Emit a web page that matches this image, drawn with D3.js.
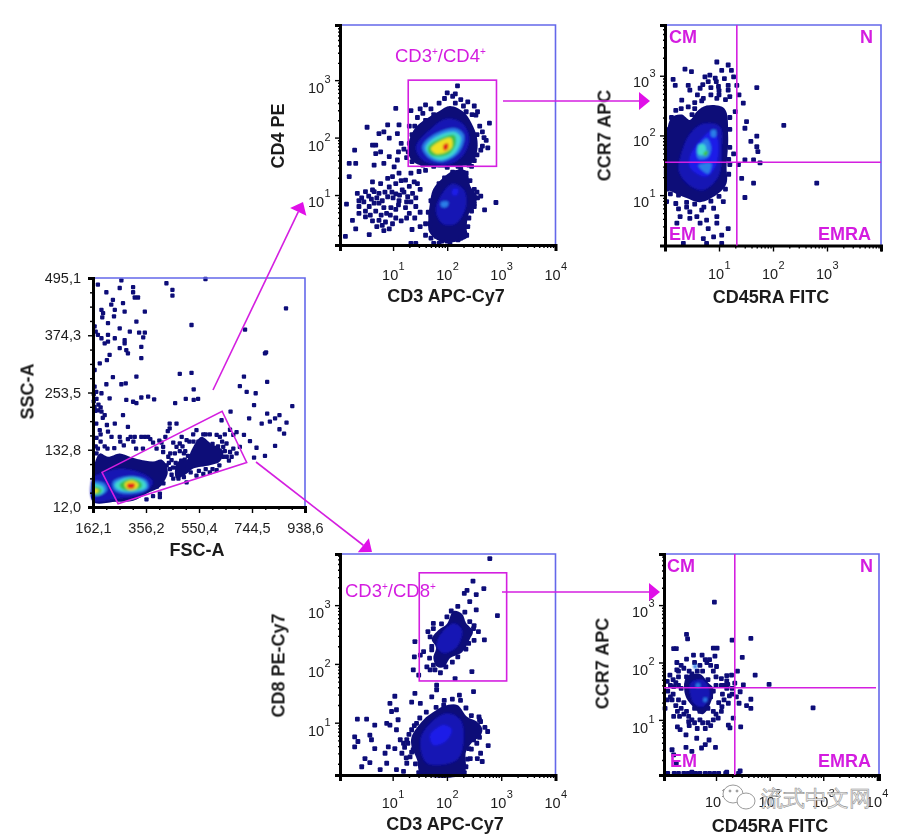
<!DOCTYPE html>
<html><head><meta charset="utf-8">
<script src="https://cdn.jsdelivr.net/npm/d3@7/dist/d3.min.js"></script>
<style>html,body{margin:0;background:#fff}svg{display:block}text{font-family:"Liberation Sans",Arial,sans-serif}</style>
</head><body><svg id="c" width="900" height="838"></svg>
<script>
// Density level colours, low to high
const levelColors=['#0b0b78','#1212b4','#1c1ce8','#2a7ee8','#3fd8d0','#3cc04a','#f0e020','#e0241a'];
// Panel A: FSC-A / SSC-A (linear values)
const fscTicks=[162.1,356.2,550.4,744.5,938.6];
const sscTicks=[12,132.8,253.5,374.3,495.1];
const aGate=[[195,85],[635,214],[725,106],[254,19]];
const aContours=[
[0,[[162,82],[172,111],[187,125],[217,118],[260,125],[297,118],[333,112],[382,108],[413,112],[431,100],[436,85],[431,75],[407,54],[358,40],[309,25],[248,23],[162,23]]],
[0,[[505,111],[523,132],[541,150],[560,160],[596,145],[615,140],[639,130],[627,108],[590,100],[529,93],[505,82],[468,72],[462,85],[474,108]]],
[1,[[162,75],[187,82],[260,93],[346,82],[382,65],[346,40],[260,30],[162,26]]],
[3,[[165,65],[205,61],[213,47],[187,37],[165,37]]],
[3,[[235,65],[297,77],[358,68],[364,51],[297,40],[242,47]]],
[4,[[165,60],[199,54],[201,44],[180,37],[165,39]]],
[4,[[242,60],[297,74],[352,65],[356,53],[297,44],[248,51]]],
[5,[[165,54],[193,49],[187,40],[165,40]]],
[5,[[260,60],[303,72],[339,63],[339,53],[297,46],[266,51]]],
[6,[[165,51],[184,47],[174,42],[165,42]]],
[6,[[278,61],[303,68],[327,61],[321,51],[290,49]]],
[7,[[287,60],[315,61],[311,52],[290,52]]]];
const aDots=[[419,128],[419,139],[438,118],[450,111],[462,125],[468,139],[456,148],[480,146],[487,160],[505,153],[529,165],[541,174],[566,165],[590,165],[615,164],[639,139],[651,146],[664,128],[676,135],[688,125],[700,139],[670,118],[652,118],[639,118],[627,160],[645,165],[676,164],[688,170],[664,175],[615,90],[590,85],[566,82],[541,78],[505,64],[444,92],[468,95],[480,88],[492,100],[456,72],[407,40],[382,35],[358,28],[396,55],[420,62],[396,85],[420,90],[432,100],[180,135],[190,150],[205,140],[215,135],[175,125],[172,140],[190,165],[175,158],[240,136],[262,150],[275,142],[290,155],[230,160],[300,160],[310,150],[320,135],[345,135],[352,160],[372,155],[382,148],[395,135],[405,152],[413,148],[427,160],[436,172],[407,33],
[480,130],[495,125],[510,120],[530,150],[548,150],[575,165],[600,145],[620,140],[635,150],[645,130],[660,110],[625,100],[600,92],[575,92],[550,88],[520,85],[495,75],[475,72],[450,80],[465,105],[500,130],[515,150],[440,105],[455,95],[485,110],[445,125],[490,140],[498,112],
[431,484],[453,470],[453,458],[574,493],[523,396],[719,386],[796,338],[869,431],[480,293],[523,295],[715,287],[700,267],[800,276],[531,260],[502,240],[547,240],[463,231],[531,238],[725,255],[758,252],[752,227],[892,225],[633,195],[666,213],[734,199],[780,188],[800,209],[810,192],[829,199],[845,206],[871,190],[845,176],[862,167],[443,188],[468,188],[443,178],[829,141],[761,137],[792,120],[752,116],[737,151],[715,164],[792,336],
[180,481],[266,490],[309,476],[309,465],[211,465],[260,474],[315,454],[327,454],[235,449],[272,442],[229,439],[193,428],[199,421],[242,428],[278,424],[352,424],[196,412],[217,400],[239,414],[321,403],[260,389],[168,393],[172,382],[180,375],[193,368],[217,375],[217,361],[205,357],[242,368],[278,364],[278,357],[297,382],[331,380],[352,380],[346,370],[339,350],[260,347],[284,343],[290,336],[223,333],[213,322],[187,315],[168,301],[339,326],[235,286],[321,287],[266,271],[282,273],[211,271],[168,266],[174,255],[193,252],[223,241],[284,238],[309,234],[321,231],[339,243],[364,245],[386,239],[168,223],[180,216],[193,213],[205,206],[174,188],[213,185],[242,188],[272,206],[290,181],[187,174],[217,171],[260,160],[315,160],[339,160],[364,160],[165,250],[175,240],[182,228],[170,215],[190,222],[165,235],[198,200]];
// Panel B: CD3 / CD4, log10 values
const bGate=[[1.28,3.0],[2.91,1.5]];
const bContours=[
[0,[[1.30,1.96],[1.42,2.18],[1.60,2.32],[1.85,2.46],[2.05,2.55],[2.3,2.45],[2.45,2.25],[2.55,2.0],[2.55,1.75],[2.45,1.55],[2.2,1.5],[1.85,1.48],[1.42,1.55],[1.3,1.67]]],
[0,[[1.65,.55],[1.68,.85],[1.74,1.1],[1.9,1.28],[2.1,1.42],[2.35,1.42],[2.43,1.15],[2.55,.98],[2.5,.8],[2.4,.68],[2.36,.4],[2.38,.27],[2.1,.18],[1.85,.2],[1.67,.35]]],
[1,[[1.42,1.84],[1.67,2.13],[1.98,2.33],[2.28,2.25],[2.41,1.99],[2.28,1.67],[1.98,1.52],[1.54,1.61]]],
[1,[[1.79,.74],[1.91,1.03],[2.10,1.20],[2.31,1.09],[2.35,.80],[2.16,.50],[1.91,.50]]],
[3,[[1.88,.87],[2.02,.88],[2.0,.80],[1.9,.79]]],
[2,[[2.1,1.1],[2.2,1.1],[2.18,1.0],[2.1,1.0]]],
[3,[[1.54,1.84],[1.79,2.07],[2.16,2.16],[2.31,2.04],[2.22,1.75],[1.91,1.58],[1.67,1.64]]],
[4,[[1.60,1.83],[1.79,2.01],[2.13,2.10],[2.25,2.0],[2.16,1.75],[1.88,1.61],[1.67,1.70]]],
[5,[[1.65,1.84],[1.88,1.99],[2.13,2.04],[2.16,1.90],[2.04,1.72],[1.79,1.67],[1.67,1.72]]],
[6,[[1.70,1.81],[1.91,1.96],[2.07,1.99],[2.09,1.84],[1.98,1.75],[1.79,1.72]]],
[7,[[1.93,1.87],[2.01,1.90],[2.01,1.80],[1.94,1.78]]]];
const bDots=[[1.05,2.51],[1.33,2.47],[.52,2.18],[.90,2.22],[.83,2.10],[.74,2.07],[1.11,2.22],[1.08,2.07],[.93,1.99],[.62,1.87],[.68,1.87],[.29,1.78],[.68,1.72],[.77,1.75],[.93,1.67],[1.08,1.61],[.65,1.52],[.19,1.55],[.31,1.55],[.83,1.55],[1.02,1.49],[.19,1.32],[.62,1.23],[.77,1.20],[.90,1.29],[.99,1.32],[1.11,1.38],[1.33,1.38],[1.48,1.41],[1.60,1.43],
[.34,1.03],[.49,1.06],[.65,1.06],[.37,.90],[.14,.84],[.49,.72],[.65,.86],[.74,1.03],[.90,.97],[.93,1.14],[1.05,1.20],[1.17,1.09],[1.11,.90],[1.27,.97],[1.39,1.23],[1.23,1.26],[1.36,1.03],[.68,.72],[.83,.78],[.96,.78],[1.05,.75],[1.23,.78],[.74,.56],[.86,.53],[.99,.50],[.49,.62],[.37,.68],[.25,.56],[.31,.41],[.12,.28],[.56,.31],[.83,.38],[.93,.41],[1.33,.16],[1.42,.16],[1.30,.68],[1.42,.80],[.56,.80],[.74,.86],[.37,.80],[.62,1.09],[.42,.95],[.46,.88],[.55,.98],[.60,.93],[.70,.95],[.80,.90],[.85,1.05],[.98,1.05],[1.0,.95],[1.05,1.02],[1.12,1.0],[1.2,1.05],[1.25,.88],[1.33,.88],[1.42,.95],[1.5,1.1],[1.45,1.2],[1.3,1.15],[1.15,1.25],[1.1,.83],[.95,.65],[.88,.68],[.78,.65],[.58,.65],[.62,.55],[.7,.45],[.8,.47],[1.05,.6],[1.15,.55],[1.25,.6],[1.4,.6],[1.5,.7],[1.5,.45],[1.35,.4],[1.6,.3],[1.7,.25],[1.75,.16],[1.85,.16],
[2.9,.87],[2.69,.74],[2.19,2.90],[2.78,2.25],[2.53,2.39],[2.55,2.05],[2.68,2.0],[2.75,1.82],[2.62,1.78],[2.45,1.5],[1.2,1.8],[1.25,1.65],[1.1,1.75],[1.15,1.9],[1.3,2.2],[1.5,2.5],[1.6,2.57],[2.0,2.78],[2.15,2.76],[2.0,.2],[2.2,.22],[2.3,.3],[1.6,.5],[1.65,.7],[1.7,.9],[2.55,1.05],[2.62,.98],[2.5,.8],
[1.35,2.05],[1.4,2.2],[1.45,2.35],[1.55,2.42],[1.7,2.5],[1.85,2.6],[1.95,2.68],[2.1,2.72],[2.25,2.66],[2.38,2.62],[2.5,2.55],[2.56,2.45],[2.46,2.4],[2.6,2.2],[2.65,2.1],[2.72,1.95],[2.65,1.85],[2.55,1.7],[2.5,1.6],[2.4,1.52],[2.2,1.5],[2.0,1.48],[1.75,1.5],[1.55,1.52],[1.35,1.58],[1.28,1.75],[1.3,1.9],[2.35,2.45],[2.3,2.55],[2.15,2.6],[1.75,2.4],[1.6,2.3],
[1.75,.4],[1.68,.5],[1.7,.65],[1.75,.85],[1.78,1.05],[1.85,1.2],[1.95,1.3],[2.1,1.4],[2.25,1.45],[2.35,1.38],[2.42,1.25],[2.5,1.1],[2.56,.95],[2.5,.85],[2.45,.72],[2.4,.6],[2.38,.45],[2.36,.3],[2.25,.25],[2.05,.17],[1.9,.2],[1.8,.28]];
// Panel C: CD45RA / CCR7 of CD4 gate, log10 values
const cQuad=[1.33,1.55];
const cContours=[
[0,[[.02,1.92],[.12,2.3],[.31,2.35],[.46,2.26],[.59,2.4],[.77,2.5],[1.1,2.45],[1.17,1.98],[1.14,1.47],[1.14,1.20],[.99,1.03],[.65,.88],[.40,.95],[.15,1.05],[.02,1.12]]],
[1,[[.28,1.64],[.46,2.03],[.71,2.2],[1.02,2.15],[1.05,1.75],[.99,1.31],[.71,1.08],[.40,1.2],[.25,1.42]]],
[2,[[.46,1.64],[.65,1.92],[.9,2.09],[.99,1.87],[.93,1.47],[.77,1.31],[.59,1.36],[.46,1.47]]],
[3,[[.59,1.75],[.77,1.95],[.85,1.81],[.8,1.64],[.62,1.61]]],
[3,[[.62,1.5],[.86,1.53],[.8,1.36],[.68,1.42]]],
[3,[[.86,2.09],[.94,2.09],[.94,1.98],[.86,1.98]]],
[4,[[.62,1.84],[.74,1.84],[.74,1.68],[.62,1.68]]],
[5,[[.72,1.72],[.8,1.74],[.77,1.66],[.72,1.66]]]];
const cDots=[[.96,3.23],[1.17,3.18],[1.23,3.09],[1.05,3.09],[.37,3.11],[.49,3.07],[.15,2.94],[.19,2.84],[.43,2.84],[.46,2.76],[.65,2.79],[.74,2.98],[.83,3.01],[.93,2.96],[.80,2.90],[.99,2.82],[1.17,2.84],[1.27,2.98],[1.33,2.84],[1.17,2.76],[1.70,2.80],[1.37,2.68],[.31,2.59],[.43,2.48],[.71,2.62],[.96,2.62],[1.45,2.54],[1.30,2.40],[1.51,2.23],[1.48,2.12],[2.2,2.17],[1.70,1.99],[1.59,1.90],[1.70,1.81],[1.72,1.73],[1.27,1.69],[1.48,1.59],[1.64,1.59],[1.76,1.54],[1.20,1.51],[1.36,1.51],[1.42,1.28],[1.64,1.20],[2.81,1.20],[1.48,.96],[1.08,.89],[.2,.86],[.25,.77],[.40,.80],[.46,.72],[.68,.75],[.9,.78],[.96,.64],[.28,.64],[.46,.61],[.59,.64],[.77,.58],[.22,.53],[.65,.53],[.96,.53],[1.17,.44],[.8,.44],[.71,.27],[.9,.30],[1.05,.33],[.34,.19],[1.05,.19],[.77,.19],[.03,.89],[.7,2.85],[.95,2.9],[1.0,2.75],[.85,2.8],[1.1,2.95],[1.2,2.65],[.55,2.55],[.6,2.68],
[.03,1.3],[.05,1.7],[.08,2.1],[.12,2.3],[.2,2.42],[.3,2.45],[.5,2.35],[.55,2.45],[.68,2.58],[.85,2.68],[1.0,2.68],[1.12,2.6],[1.2,2.3],[1.2,2.1],[1.2,1.8],[1.18,1.6],[1.18,1.35],[1.12,1.1],[1.0,.98],[.85,.9],[.72,.8],[.55,.85],[.4,.88],[.25,1.0],[.1,1.02],[.03,1.1],[.06,1.5]];
// Panel D: CD3 / CD8, log10 values
const dGate=[[1.49,3.55],[3.10,1.71]];
const dContours=[
[0,[[1.72,2.42],[1.85,2.58],[2.0,2.68],[2.12,2.9],[2.28,2.85],[2.35,2.7],[2.48,2.55],[2.42,2.42],[2.28,2.2],[2.06,2.1],[1.95,1.95],[1.82,1.95],[1.75,2.1],[1.8,2.28]]],
[1,[[1.85,2.46],[2.12,2.69],[2.28,2.58],[2.19,2.29],[1.94,2.18],[1.81,2.29]]],
[0,[[1.35,.76],[1.57,1.05],[1.75,1.18],[1.94,1.28],[2.19,1.3],[2.37,1.1],[2.55,1.02],[2.65,.9],[2.62,.78],[2.45,.65],[2.35,.5],[2.31,.13],[1.52,.13],[1.45,.37],[1.35,.59]]],
[1,[[1.51,.71],[1.69,.99],[2.0,1.16],[2.25,1.05],[2.31,.71],[2.19,.37],[1.63,.31]]],
[2,[[1.69,.79],[1.94,.96],[2.09,.88],[1.97,.68],[1.75,.62]]]];
const dDots=[[2.79,3.79],[2.48,3.41],[2.68,3.28],[2.37,3.25],[2.32,3.20],[2.54,3.18],[2.42,3.06],[2.54,2.92],[2.93,2.82],[2.69,2.41],[2.49,2.60],[2.46,1.87],[1.41,2.38],[1.57,2.21],[1.40,2.12],[1.51,2.15],[1.63,1.95],[1.75,1.98],[1.38,1.90],[1.69,1.90],[1.48,1.81],[2.15,1.75],[1.81,1.64],[1.81,1.56],[1.72,1.44],[2.23,1.47],[2.49,1.53],[1.41,1.50],[1.04,1.45],[1.35,1.35],[.95,1.33],[.98,1.19],[1.07,1.22],[1.51,1.33],[1.94,1.30],[.35,1.06],[.52,1.06],[.67,.96],[.58,.79],[.30,.76],[.36,.68],[.30,.59],[.61,.71],[.89,.99],[.95,.96],[1.10,1.05],[1.07,.88],[1.14,.71],[1.2,.65],[1.04,.56],[1.17,.48],[.86,.48],[.92,.59],[.67,.56],[.49,.39],[.58,.32],[.43,.25],[.77,.20],[.89,.31],[1.07,.20],[1.2,.17],[1.26,.31],[1.32,.42],[1.38,.54],[1.26,.71],[1.35,.88],[1.44,.99],[2.59,1.10],[2.62,1.02],[2.76,.61],[2.62,.48],[2.56,.39],[2.65,.34],[2.43,.39],[2.4,.56],[2.49,.71],[1.75,2.69],[1.69,2.46],[1.72,2.24],[2.25,2.41],
[1.65,2.55],[1.75,2.6],[1.9,2.68],[2.0,2.8],[2.08,2.9],[2.2,2.98],[2.33,2.88],[2.42,2.72],[2.5,2.65],[2.58,2.55],[2.5,2.4],[2.4,2.35],[2.35,2.25],[2.2,2.12],[2.1,2.03],[1.98,1.95],[1.88,1.85],[1.78,1.9],[1.68,2.1],[1.72,2.3],
[1.3,.8],[1.4,.95],[1.5,1.08],[1.62,1.18],[1.8,1.26],[1.95,1.38],[2.1,1.4],[2.25,1.38],[2.35,1.25],[2.45,1.12],[2.6,1.05],[2.7,.92],[2.75,.85],[2.6,.75],[2.55,.65],[2.45,.55],[2.38,.38],[2.35,.25],[2.32,.15],[1.48,.15],[1.42,.3],[1.35,.5],[1.28,.65],[1.22,.58],[1.25,.4]];
// Panel E: CD45RA / CCR7 of CD8 gate, log10 values
const eQuad=[1.35,1.56];
const eContours=[
[0,[[.45,1.75],[.7,1.8],[.85,1.65],[.95,1.55],[.9,1.3],[.75,1.1],[.55,1.25],[.42,1.45]]],
[1,[[.52,1.64],[.76,1.70],[.89,1.46],[.76,1.23],[.58,1.29]]],
[3,[[.63,1.63],[.7,1.63],[.7,1.57],[.63,1.57]]],
[3,[[.77,1.38],[.83,1.38],[.83,1.32],[.77,1.32]]],
[3,[[.58,1.96],[.64,1.96],[.64,1.9],[.58,1.9]]]];
const eDots=[[.97,3.05],[.45,2.49],[.47,2.41],[1.65,2.42],[1.30,2.39],[.21,2.24],[.26,2.24],[.95,2.25],[1.02,2.25],[1.49,2.09],[.58,2.13],[.74,2.13],[.98,2.11],[.45,2.06],[.88,2.05],[.27,2.0],[.83,2.0],[1.01,1.93],[.27,1.87],[1.40,1.85],[1.73,1.78],[1.99,1.62],[1.51,1.61],[.14,1.78],[.09,1.67],[.30,1.75],[1.2,1.77],[1.29,1.78],[.21,1.58],[1.35,1.64],[1.45,1.49],[1.65,1.36],[1.57,1.25],[1.65,1.20],[1.43,1.29],[2.81,1.21],[.09,1.35],[.18,1.35],[.05,1.20],[.21,1.06],[.32,1.06],[.49,1.06],[1.11,1.23],[1.23,1.29],[1.32,1.03],[1.46,.88],[1.26,.86],[1.23,.91],[1.04,1.03],[.28,.88],[.33,.83],[.49,.97],[.44,.74],[.64,.68],[.87,.65],[.80,.57],[.73,.51],[.99,.52],[.44,.52],[.55,.45],[.18,.48],[.26,.25],[.21,.39],[.06,.07],[.1,.07],[.22,.07],[.3,.07],[.4,.07],[.48,.07],[.55,.09],[.62,.07],[.7,.07],[.8,.07],[.88,.07],[.97,.07],[1.05,.07],[1.18,.07],[1.2,.09],[1.42,.07],[1.45,.11],[.35,1.95],[.45,1.75],[.3,1.6],[.2,1.45],[.25,1.25],[.4,1.1],[.5,.9],[.65,.85],[.75,.95],[.9,.9],[.95,1.15],[1.12,1.45],[1.15,1.6],[1.2,1.55],[1.3,1.45],[1.38,1.4],[.15,1.6],[.1,1.5],
[.3,1.85],[.4,1.9],[.5,1.85],[.6,2.0],[.7,1.95],[.8,2.05],[.9,1.95],[.95,1.85],[1.0,1.75],[1.1,1.72],[1.2,1.68],[.2,1.7],[.25,1.65],[.35,1.55],[.15,1.4],[.3,1.35],[.35,1.2],[.28,1.15],[.4,1.3],[.45,1.15],[.55,1.0],[.6,.95],[.7,1.0],[.8,.85],[.85,.95],[.95,1.0],[1.0,1.1],[1.1,1.15],[1.05,1.3],[1.15,1.35],[1.25,1.42],[1.3,1.55],[1.22,1.62],[1.1,1.6],[1.0,1.6],[.95,1.5],[.9,1.4],[.85,1.2],[.7,1.15],[.6,1.2],[.5,1.4],[.45,1.6],[.55,1.8],[.65,1.85],[.75,1.85],[.85,1.7]];

const MAG='#d41fe0',BORDER='#6468ea',INK='#1c1c1c';
const svg=d3.select('#c');
const defs=svg.append('defs');
defs.append('filter').attr('id','soft').append('feGaussianBlur').attr('stdDeviation',0.6);
defs.append('filter').attr('id','softH').append('feGaussianBlur').attr('stdDeviation',1.3);
defs.append('filter').attr('id','softT').append('feGaussianBlur').attr('stdDeviation',0.35);

function marks(g,x,y,contours,dots,size){
  const m=g.append('g').attr('filter','url(#soft)');
  const line=d3.line().x(d=>x(d[0])).y(d=>y(d[1])).curve(d3.curveCatmullRomClosed);
  m.selectAll('path').data(contours.filter(c=>c[0]===0)).join('path').attr('d',c=>line(c[1])).attr('fill',levelColors[0]);
  m.selectAll('rect').data(dots).join('rect').attr('x',d=>x(d[0])-size/2).attr('y',d=>y(d[1])-size/2).attr('width',size).attr('height',size).attr('rx',1).attr('fill',levelColors[0]);
  const h=g.append('g').attr('filter','url(#softH)');
  h.selectAll('path').data(contours.filter(c=>c[0]>0)).join('path').attr('d',c=>line(c[1])).attr('fill',c=>levelColors[c[0]]);
}
function frame(g,x0,x1,y0,y1){
  g.append('path').attr('d',`M${x0},${y0}H${x1}V${y1}`).attr('fill','none').attr('stroke',BORDER).attr('stroke-width',1.6);
}
function styleAxis(a){
  a.selectAll('.domain').attr('stroke','#000').attr('stroke-width',3);
  a.selectAll('.tick line').attr('stroke','#000').attr('stroke-width',1.4);
  a.attr('filter','url(#softT)');
}
function txt(p,s,x,y,o={}){
  const t=p.append('text').attr('x',x).attr('y',y).text(s)
    .attr('font-size',o.size||14).attr('fill',o.fill||INK).attr('text-anchor',o.anchor||'start')
    .attr('font-weight',o.weight||'normal').attr('filter','url(#softT)');
  if(o.rot!==undefined)t.attr('transform',`rotate(${o.rot},${x},${y})`);
  return t;
}
function pow(p,n,x,y){
  txt(p,'10',x,y,{size:14.5});
  txt(p,String(n),x+16.5,y-10,{size:11});
}
function logAxes(g,P){
  const x=d3.scaleLog().domain([10**P.xe[0],10**P.xe[1]]).range(P.xr);
  const y=d3.scaleLog().domain([10**P.ye[0],10**P.ye[1]]).range(P.yr);
  return {x,y,X:e=>x(10**e),Y:e=>y(10**e)};
}
function minors(dec){const r=[];dec.forEach(k=>{for(let i=2;i<10;i++)r.push(i*10**k)});return r;}
function logPanel(P){
  const g=svg.append('g');
  const S=logAxes(g,P);
  marks(g,S.X,S.Y,P.contours,P.dots,4.8);
  frame(g,P.xr[0],P.xr[1],P.yr[1],P.yr[0]);
  const ax=g.append('g').attr('transform',`translate(0,${P.yr[0]})`);
  ax.call(d3.axisBottom(S.x).tickValues([10,100,1000,10000]).tickSize(6).tickFormat('').tickPadding(0));
  const ax2=g.append('g').attr('transform',`translate(0,${P.yr[0]})`);
  ax2.call(d3.axisBottom(S.x).tickValues(minors([1,2,3])).tickSize(3).tickFormat(''));
  ax2.select('.domain').remove();
  const ay=g.append('g').attr('transform',`translate(${P.xr[0]},0)`);
  ay.call(d3.axisLeft(S.y).tickValues([10,100,1000]).tickSize(5).tickFormat(''));
  const ay2=g.append('g').attr('transform',`translate(${P.xr[0]},0)`);
  ay2.call(d3.axisLeft(S.y).tickValues(minors([0,1,2,3]).filter(v=>v>10**P.ye[0]&&v<10**P.ye[1])).tickSize(2).tickFormat(''));
  ay2.select('.domain').remove();
  [ax,ax2,ay,ay2].forEach(styleAxis);
  P.xLab.forEach(n=>pow(g,n,S.x(10**n)-11,P.xLabY));
  P.yLabY.forEach((b,i)=>pow(g,3-i,P.yLabX,b));
  txt(g,P.xTitle,P.xTitleX,P.xTitleY,{size:18,weight:'bold',anchor:'middle'});
  txt(g,P.yTitle,P.yTitleX,P.yTitleY,{size:18,weight:'bold',anchor:'middle',rot:-90});
  return {g,S};
}
// Panel A
(function(){
  const g=svg.append('g');
  const xr=[93,305],yr=[507,278];
  const x=d3.scaleLinear().domain([162.1,938.6]).range(xr);
  const y=d3.scaleLinear().domain([12,495.1]).range(yr);
  marks(g,x,y,aContours,aDots,4.3);
  frame(g,xr[0],xr[1],yr[1],yr[0]);
  const fmt=v=>d3.format('.1f')(v).replace('.',',');
  const ax=g.append('g').attr('transform',`translate(0,${yr[0]})`).call(d3.axisBottom(x).tickValues(fscTicks).tickSize(6).tickFormat(fmt).tickPadding(10));
  const ay=g.append('g').attr('transform',`translate(${xr[0]},0)`).call(d3.axisLeft(y).tickValues(sscTicks).tickSize(5).tickFormat(fmt).tickPadding(7));
  const mx=[],my=[];
  fscTicks.slice(0,-1).forEach((v,i)=>{for(let k=1;k<4;k++)mx.push(v+(fscTicks[i+1]-v)*k/4)});
  sscTicks.slice(0,-1).forEach((v,i)=>{for(let k=1;k<4;k++)my.push(v+(sscTicks[i+1]-v)*k/4)});
  const ax2=g.append('g').attr('transform',`translate(0,${yr[0]})`).call(d3.axisBottom(x).tickValues(mx).tickSize(3).tickFormat(''));
  const ay2=g.append('g').attr('transform',`translate(${xr[0]},0)`).call(d3.axisLeft(y).tickValues(my).tickSize(3).tickFormat(''));
  ax2.select('.domain').remove();ay2.select('.domain').remove();
  [ax,ay,ax2,ay2].forEach(styleAxis);
  [ax,ay].forEach(a=>a.selectAll('text').attr('font-size',14.5).attr('fill',INK).attr('font-family','"Liberation Sans",Arial,sans-serif'));
  const poly=d3.line().x(d=>x(d[0])).y(d=>y(d[1])).curve(d3.curveLinearClosed);
  g.append('path').attr('d',poly(aGate)).attr('fill','none').attr('stroke',MAG).attr('stroke-width',1.6);
  txt(g,'FSC-A',197,555.5,{size:18,weight:'bold',anchor:'middle'});
  txt(g,'SSC-A',33,391.5,{size:18,weight:'bold',anchor:'middle',rot:-90});
})();
// Panel B
(function(){
  const {g,S}=logPanel({xe:[.02,4],ye:[.13,3.96],xr:[340,555.5],yr:[245,25],contours:bContours,dots:bDots,
    xLab:[1,2,3,4],xLabY:280,yLabX:308,yLabY:[92.5,150.5,207],
    xTitle:'CD3 APC-Cy7',xTitleX:446,xTitleY:301.5,yTitle:'CD4 PE',yTitleX:284,yTitleY:136});
  g.append('rect').attr('x',S.X(bGate[0][0])).attr('y',S.Y(bGate[0][1])).attr('width',S.X(bGate[1][0])-S.X(bGate[0][0])).attr('height',S.Y(bGate[1][1])-S.Y(bGate[0][1])).attr('fill','none').attr('stroke',MAG).attr('stroke-width',1.6);
  const t=txt(g,'CD3',395,61.5,{size:18.5,fill:MAG});
  t.append('tspan').text('+').attr('dy',-7).attr('font-size',10);
  t.append('tspan').text('/CD4').attr('dy',7);
  t.append('tspan').text('+').attr('dy',-7).attr('font-size',10);
})();
// Panel C
(function(){
  const {g,S}=logPanel({xe:[0,4],ye:[.156,3.85],xr:[665,881],yr:[245.5,25],contours:cContours,dots:cDots,
    xLab:[1,2,3],xLabY:279,yLabX:633,yLabY:[87,146,206.5],
    xTitle:'CD45RA FITC',xTitleX:771,xTitleY:302.5,yTitle:'CCR7 APC',yTitleX:610,yTitleY:135.5});
  g.append('line').attr('x1',S.X(cQuad[0])).attr('x2',S.X(cQuad[0])).attr('y1',25).attr('y2',245.5).attr('stroke',MAG).attr('stroke-width',1.6);
  g.append('line').attr('x1',665).attr('x2',881).attr('y1',S.Y(cQuad[1])).attr('y2',S.Y(cQuad[1])).attr('stroke',MAG).attr('stroke-width',1.6);
  const o={size:18,weight:'bold',fill:MAG};
  txt(g,'CM',669,43,o);txt(g,'N',873,43,{...o,anchor:'end'});txt(g,'EM',669,240,o);txt(g,'EMRA',871,240,{...o,anchor:'end'});
})();
// Panel D
(function(){
  const {g,S}=logPanel({xe:[.03,4],ye:[.11,3.87],xr:[340,555.5],yr:[775,554],contours:dContours,dots:dDots,
    xLab:[1,2,3,4],xLabY:808,yLabX:308,yLabY:[618,676.5,736],
    xTitle:'CD3 APC-Cy7',xTitleX:445,xTitleY:830,yTitle:'CD8 PE-Cy7',yTitleX:284,yTitleY:665.5});
  g.append('rect').attr('x',S.X(dGate[0][0])).attr('y',S.Y(dGate[0][1])).attr('width',S.X(dGate[1][0])-S.X(dGate[0][0])).attr('height',S.Y(dGate[1][1])-S.Y(dGate[0][1])).attr('fill','none').attr('stroke',MAG).attr('stroke-width',1.6);
  const t=txt(g,'CD3',345,597,{size:18.5,fill:MAG});
  t.append('tspan').text('+').attr('dy',-7).attr('font-size',10);
  t.append('tspan').text('/CD8').attr('dy',7);
  t.append('tspan').text('+').attr('dy',-7).attr('font-size',10);
})();
// Panel E
(function(){
  const {g,S}=logPanel({xe:[.03,4.04],ye:[.04,3.89],xr:[664,879],yr:[775,554],contours:eContours,dots:eDots,
    xLab:[1,2,3,4],xLabY:807,yLabX:632,yLabY:[617,675,733],
    xTitle:'CD45RA FITC',xTitleX:770,xTitleY:831.5,yTitle:'CCR7 APC',yTitleX:608,yTitleY:663.5});
  g.append('line').attr('x1',S.X(eQuad[0])).attr('x2',S.X(eQuad[0])).attr('y1',554).attr('y2',775).attr('stroke',MAG).attr('stroke-width',1.6);
  g.append('line').attr('x1',664).attr('x2',876).attr('y1',S.Y(eQuad[1])).attr('y2',S.Y(eQuad[1])).attr('stroke',MAG).attr('stroke-width',1.6);
  const o={size:18,weight:'bold',fill:MAG};
  txt(g,'CM',667,571.5,o);txt(g,'N',873,571.5,{...o,anchor:'end'});txt(g,'EM',670,767,o);txt(g,'EMRA',871,767,{...o,anchor:'end'});
  // watermark
  const w=svg.append('g').attr('fill','none').attr('stroke','#9a9a9a').attr('stroke-width',1);
  w.append('ellipse').attr('cx',733).attr('cy',794).attr('rx',10).attr('ry',9).attr('fill','#fff');
  w.append('ellipse').attr('cx',746).attr('cy',801).attr('rx',9).attr('ry',8).attr('fill','#fff');
  w.append('circle').attr('cx',730).attr('cy',791).attr('r',1).attr('fill','#9a9a9a');
  w.append('circle').attr('cx',737).attr('cy',791).attr('r',1).attr('fill','#9a9a9a');
  svg.append('text').text('流式中文网').attr('x',761).attr('y',806).attr('font-size',22)
    .attr('font-family','"Noto Sans CJK SC"').attr('fill','#e8e8e8').attr('stroke','#8c8c8c').attr('stroke-width',.5);
})();
// Arrows between panels
const arrows=[[[213,390],[303,202]],[[256,462],[372,552]],[[503,101],[650,101]],[[502,592],[660,592]]];
const ag=svg.append('g');
arrows.forEach(a=>{
  const [p,q]=a,ang=Math.atan2(q[1]-p[1],q[0]-p[0]),L=11,W=9;
  const bx=q[0]-L*Math.cos(ang),by=q[1]-L*Math.sin(ang);
  ag.append('line').attr('x1',p[0]).attr('y1',p[1]).attr('x2',bx).attr('y2',by).attr('stroke',MAG).attr('stroke-width',1.6);
  ag.append('polygon').attr('points',[[q[0],q[1]],[bx-W*Math.sin(ang),by+W*Math.cos(ang)],[bx+W*Math.sin(ang),by-W*Math.cos(ang)]].map(d=>d.join(',')).join(' ')).attr('fill','#e010e8');
});
</script></body></html>
